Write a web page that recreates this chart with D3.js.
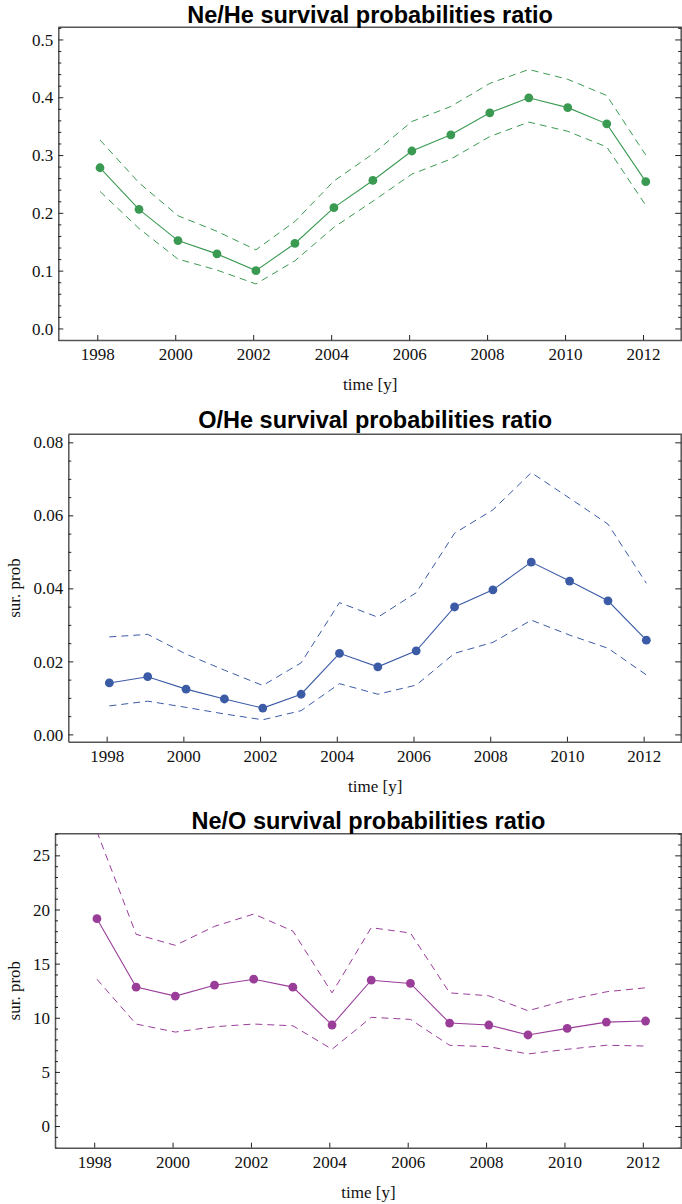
<!DOCTYPE html>
<html>
<head>
<meta charset="utf-8">
<script src="https://cdn.jsdelivr.net/npm/d3@7"></script>
<style>
  html, body { margin: 0; padding: 0; background: #fff; }
  svg { display: block; }
  .tick text { font-family: "Liberation Serif", "Times New Roman", serif; font-size: 17px; fill: #111; }
  .title { font-family: "Liberation Sans", Arial, sans-serif; font-weight: bold; font-size: 23.5px; fill: #000; }
  .axis-label { font-family: "Liberation Serif", "Times New Roman", serif; font-size: 17px; fill: #111; }
</style>
</head>
<body>
<script>
// Years of the measurements (plotted slightly after the start of each year)
const years = [1998, 1999, 2000, 2001, 2002, 2003, 2004, 2005, 2006, 2007, 2008, 2009, 2010, 2011, 2012];
const yearOffset = 0.07;
const xTickYears = [1998, 2000, 2002, 2004, 2006, 2008, 2010, 2012];

// Ne/He survival probability ratio: central value and bounds
const neHeCentral = [0.278, 0.206, 0.152, 0.129, 0.100, 0.147, 0.209, 0.256, 0.307, 0.335, 0.373, 0.399, 0.382, 0.354, 0.254];
const neHeUpper   = [0.326, 0.252, 0.195, 0.168, 0.136, 0.185, 0.255, 0.302, 0.358, 0.384, 0.424, 0.448, 0.431, 0.403, 0.300];
const neHeLower   = [0.237, 0.173, 0.120, 0.101, 0.077, 0.117, 0.175, 0.220, 0.267, 0.293, 0.332, 0.357, 0.341, 0.314, 0.213];
const neHeTicks   = [0.0, 0.1, 0.2, 0.3, 0.4, 0.5];

// O/He survival probability ratio
const oHeCentral = [0.0141, 0.0158, 0.0124, 0.0097, 0.0072, 0.0110, 0.0222, 0.0185, 0.0229, 0.0349, 0.0396, 0.0472, 0.0420, 0.0366, 0.0258];
const oHeUpper   = [0.0267, 0.0274, 0.0220, 0.0176, 0.0134, 0.0196, 0.0361, 0.0321, 0.0388, 0.0551, 0.0615, 0.0717, 0.0647, 0.0576, 0.0414];
const oHeLower   = [0.0078, 0.0091, 0.0074, 0.0056, 0.0040, 0.0065, 0.0139, 0.0110, 0.0135, 0.0222, 0.0252, 0.0313, 0.0272, 0.0236, 0.0163];
const oHeTicks   = [0.00, 0.02, 0.04, 0.06, 0.08];

// Ne/O survival probability ratio
const neOCentral = [19.15, 12.83, 12.00, 13.01, 13.56, 12.83, 9.33, 13.47, 13.17, 9.51, 9.33, 8.41, 9.02, 9.60, 9.70];
const neOUpper   = [27.20, 17.71, 16.69, 18.44, 19.58, 18.01, 12.30, 18.32, 17.83, 12.30, 12.03, 10.65, 11.63, 12.40, 12.77];
const neOLower   = [13.56, 9.42, 8.68, 9.17, 9.42, 9.26, 7.09, 10.04, 9.85, 7.46, 7.33, 6.66, 7.09, 7.46, 7.39];
const neOTicks   = [0, 5, 10, 15, 20, 25];

const W = 682, H = 1204;
const svg = d3.select("body").append("svg").attr("width", W).attr("height", H);

const panels = [
  { title: "Ne/He survival probabilities ratio", central: neHeCentral, upper: neHeUpper, lower: neHeLower,
    ticks: neHeTicks, fmt: d3.format(".1f"), minorStep: 0.02, domain: [-0.02, 0.521],
    color: "#3a9a52", left: 58.3, top: 27.3, bottom: 340, titleY: 22.7, ylabel: null },
  { title: "O/He survival probabilities ratio", central: oHeCentral, upper: oHeUpper, lower: oHeLower,
    ticks: oHeTicks, fmt: d3.format(".2f"), minorStep: 0.005, domain: [-0.002, 0.0822],
    color: "#3b5ba6", left: 68.3, top: 434.3, bottom: 741.7, titleY: 428.3, ylabel: "sur. prob" },
  { title: "Ne/O survival probabilities ratio", central: neOCentral, upper: neOUpper, lower: neOLower,
    ticks: neOTicks, fmt: d3.format("d"), minorStep: 1, domain: [-2, 27],
    color: "#993d99", left: 55, top: 833.7, bottom: 1147.7, titleY: 829.3, ylabel: "sur. prob" }
];

const right = 682;
const frameColor = "#555";

panels.forEach((p, i) => {
  const g = svg.append("g");
  const x = d3.scaleLinear().domain([1997, 2013]).range([p.left, right]);
  const y = d3.scaleLinear().domain(p.domain).range([p.bottom, p.top]);

  const clipId = "clip" + i;
  svg.append("clipPath").attr("id", clipId)
    .append("rect").attr("x", p.left).attr("y", p.top)
    .attr("width", right - p.left).attr("height", p.bottom - p.top);

  // Frame: top and right lines
  g.append("line").attr("x1", p.left).attr("x2", right).attr("y1", p.top).attr("y2", p.top)
    .attr("stroke", frameColor).attr("stroke-width", 1.5);
  g.append("line").attr("x1", right - 0.8).attr("x2", right - 0.8).attr("y1", p.top).attr("y2", p.bottom)
    .attr("stroke", frameColor).attr("stroke-width", 1.5);

  const minor = d3.range(Math.ceil(p.domain[0] / p.minorStep) * p.minorStep, p.domain[1] + 1e-9, p.minorStep)
    .filter(v => !p.ticks.some(t => Math.abs(t - v) < p.minorStep * 0.01));

  // Left axis: major ticks with labels, minor ticks inward
  const leftAxis = g.append("g").attr("transform", `translate(${p.left},0)`)
    .call(d3.axisLeft(y).tickValues(p.ticks).tickFormat(p.fmt).tickSizeInner(-5).tickSizeOuter(0).tickPadding(5));
  leftAxis.select(".domain").attr("stroke", frameColor).attr("stroke-width", 1.5);
  leftAxis.selectAll(".tick line").attr("stroke", "#222");
  leftAxis.selectAll(".tick text").attr("dy", "0.33em");

  const leftMinor = g.append("g").attr("transform", `translate(${p.left},0)`)
    .call(d3.axisLeft(y).tickValues(minor).tickFormat("").tickSizeInner(-3).tickSizeOuter(0));
  leftMinor.select(".domain").remove();
  leftMinor.selectAll(".tick line").attr("stroke", "#222");

  // Right frame ticks
  const rightMajor = g.append("g").attr("transform", `translate(${right - 0.8},0)`)
    .call(d3.axisRight(y).tickValues(p.ticks).tickFormat("").tickSizeInner(-6).tickSizeOuter(0));
  rightMajor.select(".domain").remove();
  rightMajor.selectAll(".tick line").attr("stroke", "#222");
  const rightMinor = g.append("g").attr("transform", `translate(${right - 0.8},0)`)
    .call(d3.axisRight(y).tickValues(minor).tickFormat("").tickSizeInner(-3).tickSizeOuter(0));
  rightMinor.select(".domain").remove();
  rightMinor.selectAll(".tick line").attr("stroke", "#222");

  // Bottom axis
  const bottomAxis = g.append("g").attr("transform", `translate(0,${p.bottom})`)
    .call(d3.axisBottom(x).tickValues(xTickYears).tickFormat(d3.format("d")).tickSizeInner(-5).tickSizeOuter(0).tickPadding(8));
  bottomAxis.select(".domain").attr("stroke", frameColor).attr("stroke-width", 1.5);
  bottomAxis.selectAll(".tick line").attr("stroke", "#222");
  bottomAxis.selectAll(".tick text").attr("dy", "0.71em");

  // Titles and labels
  g.append("text").attr("class", "title")
    .attr("x", (p.left + right) / 2).attr("y", p.titleY)
    .attr("text-anchor", "middle").text(p.title);
  g.append("text").attr("class", "axis-label")
    .attr("x", (p.left + right) / 2).attr("y", p.bottom + 50)
    .attr("text-anchor", "middle").text("time [y]");
  if (p.ylabel) {
    const cy = (p.top + p.bottom) / 2;
    g.append("text").attr("class", "axis-label")
      .attr("transform", `translate(20,${cy}) rotate(-90)`)
      .attr("text-anchor", "middle").text(p.ylabel);
  }

  // Data
  const series = years.map((yr, k) => ({ x: yr + yearOffset, c: p.central[k], u: p.upper[k], l: p.lower[k] }));
  const plot = g.append("g").attr("clip-path", `url(#${clipId})`);
  const line = key => d3.line().x(d => x(d.x)).y(d => y(d[key]));

  plot.append("path").datum(series).attr("d", line("u"))
    .attr("fill", "none").attr("stroke", p.color).attr("stroke-width", 1).attr("stroke-dasharray", "7,5");
  plot.append("path").datum(series).attr("d", line("l"))
    .attr("fill", "none").attr("stroke", p.color).attr("stroke-width", 1).attr("stroke-dasharray", "7,5");
  plot.append("path").datum(series).attr("d", line("c"))
    .attr("fill", "none").attr("stroke", p.color).attr("stroke-width", 1.1);
  plot.selectAll("circle.pt").data(series).enter().append("circle")
    .attr("class", "pt")
    .attr("cx", d => x(d.x)).attr("cy", d => y(d.c)).attr("r", 4.4)
    .attr("fill", p.color);
});
</script>
</body>
</html>
